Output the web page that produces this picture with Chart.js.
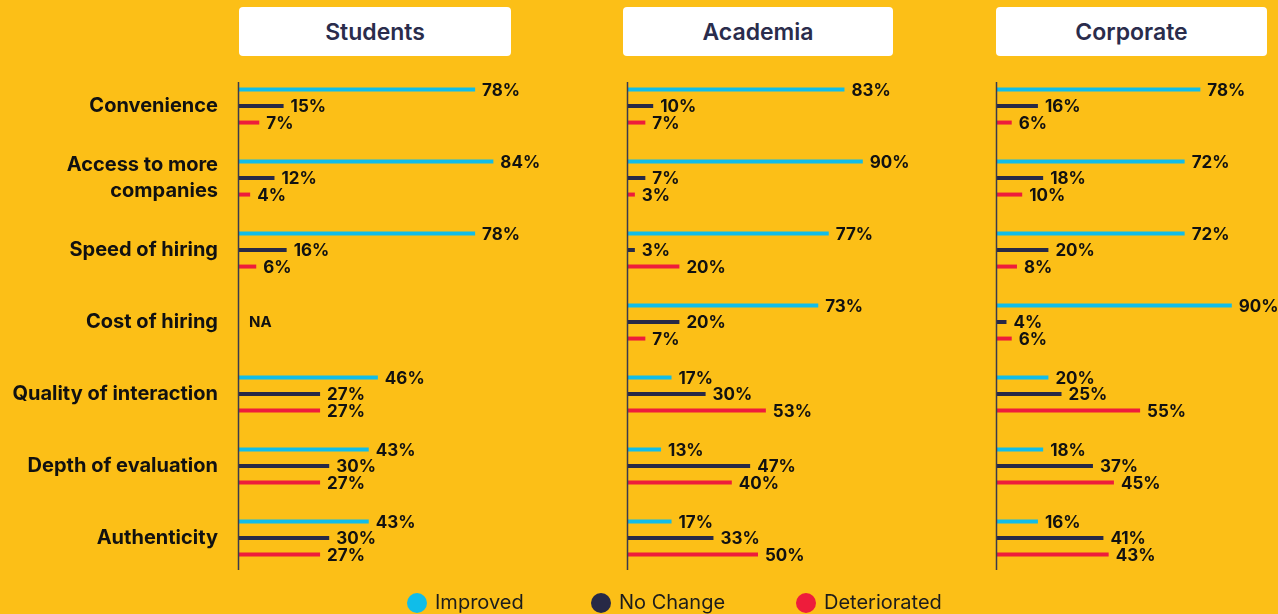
<!DOCTYPE html>
<html lang="en">
<head>
<meta charset="UTF-8">
<title>Impact of virtual hiring</title>
<script src="https://cdn.jsdelivr.net/npm/chart.js@4"></script>
<style>
  body { margin: 0; width: 1278px; height: 614px; overflow: hidden; position: relative; background: #FCBF17; font-family: Inter, Roboto, sans-serif; }
  .head { position: absolute; top: 7px; height: 49px; background: #fff; border-radius: 4px; display: flex; align-items: center; justify-content: center; font-weight: 600; font-size: 23px; color: #2A2C4C; }
  canvas { position: absolute; top: 0; }
  .leg { position: absolute; top: 590px; font-size: 20px; color: #1c1c1c; line-height: 24px; }
  .leg i { position: absolute; left: -28px; top: 3px; width: 20px; height: 20px; border-radius: 50%; }
</style>
</head>
<body>
  <div class="head" style="left:239px;width:272px">Students</div>
  <div class="head" style="left:623px;width:270px">Academia</div>
  <div class="head" style="left:996px;width:271px">Corporate</div>

  <canvas id="students" width="560" height="614" style="left:0"></canvas>
  <canvas id="academia" width="340" height="614" style="left:600px"></canvas>
  <canvas id="corporate" width="318" height="614" style="left:960px"></canvas>

  <div class="leg" style="left:435px"><i style="background:#10BDE9"></i>Improved</div>
  <div class="leg" style="left:619px"><i style="background:#272946"></i>No Change</div>
  <div class="leg" style="left:824px"><i style="background:#EE1C3B"></i>Deteriorated</div>

<script>
  const categories = [
    'Convenience',
    ['Access to more', 'companies'],
    'Speed of hiring',
    'Cost of hiring',
    'Quality of interaction',
    'Depth of evaluation',
    'Authenticity'
  ];
  const seriesNames = ['Improved', 'No Change', 'Deteriorated'];
  const seriesColors = ['#10BDE9', '#272946', '#EE1C3B'];

  // percentages per group (null = not asked)
  const studentsImproved     = [78, 84, 78, null, 46, 43, 43];
  const studentsNoChange     = [15, 12, 16, null, 27, 30, 30];
  const studentsDeteriorated = [7, 4, 6, null, 27, 27, 27];

  const academiaImproved     = [83, 90, 77, 73, 17, 13, 17];
  const academiaNoChange     = [10, 7, 3, 20, 30, 47, 33];
  const academiaDeteriorated = [7, 3, 20, 7, 53, 40, 50];

  const corporateImproved     = [78, 72, 72, 90, 20, 18, 16];
  const corporateNoChange     = [16, 18, 20, 4, 25, 37, 41];
  const corporateDeteriorated = [6, 10, 8, 6, 55, 45, 43];

  // axis line + value labels at the bar ends, "NA" where a group has no data
  const barLabels = {
    id: 'barLabels',
    afterDatasetsDraw(chart) {
      const ctx = chart.ctx;
      const area = chart.chartArea;
      ctx.save();
      ctx.strokeStyle = '#3A3A4C';
      ctx.lineWidth = 1.5;
      ctx.beginPath();
      ctx.moveTo(area.left + 0.5, 82);
      ctx.lineTo(area.left + 0.5, 570);
      ctx.stroke();

      ctx.fillStyle = '#111';
      ctx.textBaseline = 'middle';
      ctx.textAlign = 'left';
      ctx.font = '700 17px Inter, Roboto, sans-serif';
      chart.data.datasets.forEach((ds, di) => {
        const meta = chart.getDatasetMeta(di);
        meta.data.forEach((bar, i) => {
          if (ds.data[i] == null) return;
          ctx.fillText(ds.data[i] + '%', bar.x + 7, bar.y + 1);
        });
      });
      const yScale = chart.scales.y;
      ctx.font = '700 15px Inter, Roboto, sans-serif';
      chart.data.labels.forEach((lab, i) => {
        const empty = chart.data.datasets.every(ds => ds.data[i] == null);
        if (empty) ctx.fillText('NA', area.left + 11, yScale.getPixelForValue(i));
      });
      ctx.restore();
    }
  };

  function makeChart(id, series, opts) {
    return new Chart(document.getElementById(id), {
      type: 'bar',
      data: {
        labels: categories,
        datasets: series.map((data, k) => ({
          label: seriesNames[k],
          data: data,
          backgroundColor: seriesColors[k],
          maxBarThickness: 4,
          barPercentage: 1,
          categoryPercentage: 0.69
        }))
      },
      options: {
        indexAxis: 'y',
        responsive: false,
        animation: false,
        events: [],
        layout: { padding: { top: 70, bottom: 40, left: opts.padLeft, right: opts.padRight } },
        plugins: { legend: { display: false }, tooltip: { enabled: false } },
        scales: {
          x: { display: false, min: 0, max: 100 },
          y: {
            display: opts.showLabels,
            grid: { display: false },
            border: { display: false },
            ticks: {
              color: '#111',
              padding: 12,
              font: { family: 'Inter, Roboto, sans-serif', size: 20, weight: '700', lineHeight: 1.3 }
            },
            afterFit(scale) { if (opts.showLabels) scale.width = 238; }
          }
        }
      },
      plugins: [barLabels]
    });
  }

  makeChart('students', [studentsImproved, studentsNoChange, studentsDeteriorated],
    { showLabels: true, padLeft: 0, padRight: 18 });
  makeChart('academia', [academiaImproved, academiaNoChange, academiaDeteriorated],
    { showLabels: false, padLeft: 27, padRight: 51 });
  makeChart('corporate', [corporateImproved, corporateNoChange, corporateDeteriorated],
    { showLabels: false, padLeft: 36, padRight: 20 });
</script>
</body>
</html>
